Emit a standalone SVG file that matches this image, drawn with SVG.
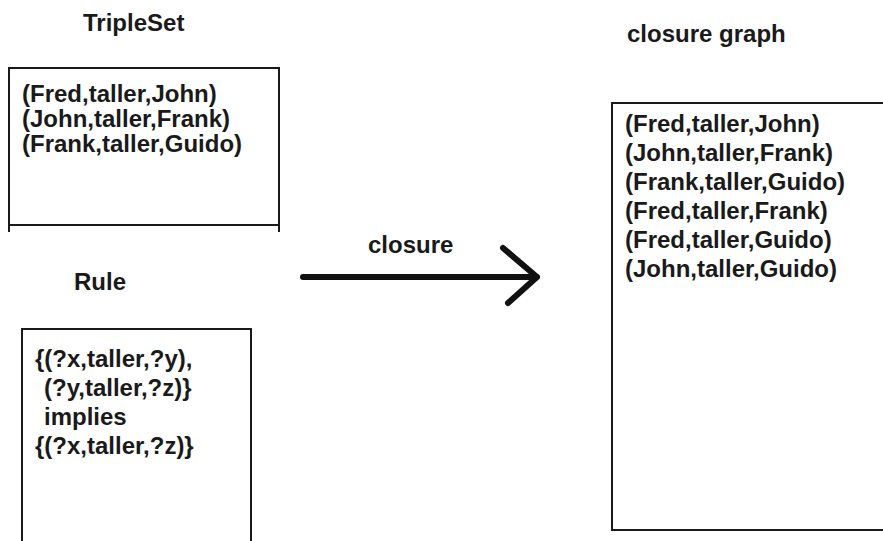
<svg xmlns="http://www.w3.org/2000/svg" width="883" height="541" viewBox="0 0 883 541">
<style>
text{font-family:"Liberation Sans",Arial,sans-serif;font-weight:bold;font-size:24px;fill:#1a1a1a}
.box{fill:none;stroke:#1a1a1a;stroke-width:2}
.arrow{fill:none;stroke:#111;stroke-width:6;stroke-linecap:round;stroke-linejoin:round}
</style>
<rect width="883" height="541" fill="#fff"/>
<g id="tripleset">
<text x="83" y="31">TripleSet</text>
<path class="box" d="M9,232 V68 H279 V232 M9,225 H279"/>
<text x="22" y="102">(Fred,taller,John)</text>
<text x="22" y="127">(John,taller,Frank)</text>
<text x="22" y="152">(Frank,taller,Guido)</text>
</g>
<g id="rule">
<text x="74" y="290">Rule</text>
<path class="box" d="M22,545 V329 H251 V545"/>
<text x="35" y="367">{(?x,taller,?y),</text>
<text x="44" y="396">(?y,taller,?z)}</text>
<text x="44" y="425">implies</text>
<text x="35" y="454">{(?x,taller,?z)}</text>
</g>
<g id="closure-graph">
<text x="627" y="42">closure graph</text>
<path class="box" d="M886,103 H612 V530 H886"/>
<text x="625" y="132">(Fred,taller,John)</text>
<text x="625" y="161">(John,taller,Frank)</text>
<text x="625" y="190">(Frank,taller,Guido)</text>
<text x="625" y="219">(Fred,taller,Frank)</text>
<text x="625" y="248">(Fred,taller,Guido)</text>
<text x="625" y="277">(John,taller,Guido)</text>
</g>
<g id="connectors">
<path class="arrow" d="M303,277 H537 M503,248 L537,277 L508,303"/>
<text x="368" y="253">closure</text>
</g>
</svg>
